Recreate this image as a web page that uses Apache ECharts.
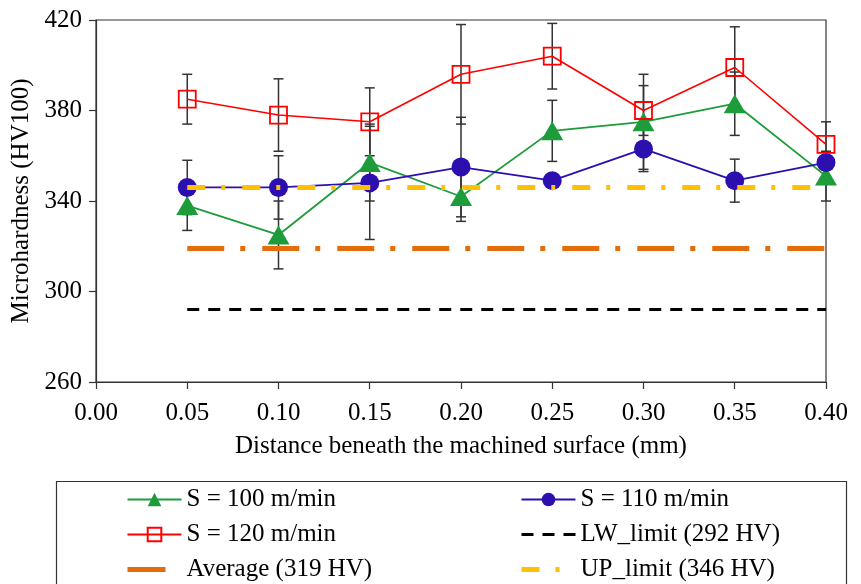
<!DOCTYPE html>
<html>
<head>
<meta charset="utf-8">
<script src="https://cdn.jsdelivr.net/npm/echarts@6/dist/echarts.min.js"></script>
<style>
  html, body { margin: 0; padding: 0; background: #fff; }
  #chart { width: 861px; height: 584px; }
</style>
</head>
<body>
<div id="chart"></div>
<script>
// Depth below the machined surface (mm)
const depths = [0.05, 0.10, 0.15, 0.20, 0.25, 0.30, 0.35, 0.40];

// Microhardness (HV100) and standard deviation per cutting speed
const hv100 = [338, 325, 357, 342, 371, 375, 383, 351];
const err100 = [11, 15, 17, 11, 13.5, 21, 14, 11];
const hv110 = [346, 346, 348, 355, 349, 363, 349, 357];
const err110 = [12, 14, 25, 22, 3, 10, 9.5, 3];
const hv120 = [385, 378, 375, 396, 404, 380, 399, 365];
const err120 = [11, 16, 15, 22, 14.5, 11, 18, 10];

// Reference levels (HV)
const lwLimit = 292;
const average = 319;
const upLimit = 346;
const levelSpan = [0.05, 0.40];

// Axis ranges
const xRange = [0, 0.40, 0.05];
const yRange = [260, 420, 40];

const FONT = "'Liberation Serif', 'Times New Roman', serif";
const FS = 25;
const GREEN = '#1e9b3a';
const BLUE = '#2c0fae';
const RED = '#ff0000';
const ORANGE = '#e46c0a';
const YELLOW = '#ffc000';

function pairs(vals) { return depths.map((d, i) => [d, vals[i]]); }
function errRows(vals, errs) { return depths.map((d, i) => [d, vals[i] - errs[i], vals[i] + errs[i]]); }
function level(v) { return levelSpan.map(x => [x, v]); }

const errorRows = [].concat(errRows(hv100, err100), errRows(hv110, err110), errRows(hv120, err120));

function renderErrorBar(params, api) {
  const x = api.value(0);
  const lo = api.coord([x, api.value(1)]);
  const hi = api.coord([x, api.value(2)]);
  const cap = 5;
  const style = { stroke: '#333', lineWidth: 1.5 };
  return {
    type: 'group',
    children: [
      { type: 'line', shape: { x1: lo[0], y1: lo[1], x2: hi[0], y2: hi[1] }, style },
      { type: 'line', shape: { x1: lo[0] - cap, y1: lo[1], x2: lo[0] + cap, y2: lo[1] }, style },
      { type: 'line', shape: { x1: hi[0] - cap, y1: hi[1], x2: hi[0] + cap, y2: hi[1] }, style }
    ]
  };
}

const legendText = { fontFamily: FONT, fontSize: FS, lineHeight: FS, color: '#000' };
const noMarker = { opacity: 0 };

const option = {
  backgroundColor: '#fff',
  animation: false,
  textStyle: { fontFamily: FONT },
  grid: { left: 96, right: 35, top: 20, bottom: 202, show: true, borderColor: '#333', borderWidth: 1.2 },
  xAxis: {
    type: 'value', min: xRange[0], max: xRange[1], interval: xRange[2],
    name: 'Distance beneath the machined surface (mm)',
    nameLocation: 'middle', nameGap: 52,
    nameTextStyle: { fontFamily: FONT, fontSize: FS, color: '#000' },
    axisLine: { show: true, lineStyle: { color: '#333', width: 1.2 } },
    axisTick: { show: true, inside: false, length: 7, lineStyle: { color: '#333', width: 1.2 } },
    axisLabel: { fontFamily: FONT, fontSize: FS, color: '#000', margin: 19, formatter: v => v.toFixed(2) },
    splitLine: { show: false }
  },
  yAxis: {
    type: 'value', min: yRange[0], max: yRange[1], interval: yRange[2],
    name: 'Microhardness (HV100)',
    nameLocation: 'middle', nameGap: 56,
    nameTextStyle: { fontFamily: FONT, fontSize: FS, color: '#000' },
    axisLine: { show: true, lineStyle: { color: '#333', width: 1.2 } },
    axisTick: { show: true, inside: false, length: 7, lineStyle: { color: '#333', width: 1.2 } },
    axisLabel: { fontFamily: FONT, fontSize: FS, color: '#000', margin: 14 },
    splitLine: { show: false }
  },
  legend: [
    {
      orient: 'vertical', left: 125, top: 487, padding: 0,
      itemWidth: 54, itemHeight: 17, itemGap: 10,
      textStyle: legendText,
      data: [
        { name: 'S = 100 m/min' },
        { name: 'S = 120 m/min' },
        { name: 'Average (319 HV)', itemStyle: noMarker, lineStyle: { width: 5, type: [38, 40] } }
      ]
    },
    {
      orient: 'vertical', left: 519, top: 487, padding: 0,
      itemWidth: 54, itemHeight: 17, itemGap: 10,
      textStyle: legendText,
      data: [
        { name: 'S = 110 m/min' },
        { name: 'LW_limit (292 HV)', itemStyle: noMarker, lineStyle: { width: 3 } },
        { name: 'UP_limit (346 HV)', itemStyle: noMarker, lineStyle: { width: 5 } }
      ]
    }
  ],
  graphic: [
    { type: 'rect', left: 54, top: 479, shape: { width: 790, height: 120 },
      style: { fill: 'none', stroke: '#333', lineWidth: 1.2 }, z: -1 }
  ],
  series: [
    {
      type: 'custom', name: 'error', renderItem: renderErrorBar,
      data: errorRows, encode: { x: 0, y: [1, 2] }, z: 1, silent: true
    },
    {
      name: 'S = 100 m/min', type: 'line', data: pairs(hv100),
      symbol: 'triangle', symbolSize: [22, 19],
      lineStyle: { color: GREEN, width: 1.8 },
      itemStyle: { color: GREEN }, z: 3
    },
    {
      name: 'S = 110 m/min', type: 'line', data: pairs(hv110),
      symbol: 'circle', symbolSize: 19,
      lineStyle: { color: BLUE, width: 1.8 },
      itemStyle: { color: BLUE }, z: 3
    },
    {
      name: 'S = 120 m/min', type: 'line', data: pairs(hv120),
      symbol: 'rect', symbolSize: 17,
      lineStyle: { color: RED, width: 1.6 },
      itemStyle: { color: 'rgba(255,255,255,0)', borderColor: RED, borderWidth: 1.8 }, z: 3
    },
    {
      name: 'LW_limit (292 HV)', type: 'line', data: level(lwLimit), symbol: 'none',
      lineStyle: { color: '#000', width: 3, type: [12, 9] },
      itemStyle: { color: '#000' }, z: 4
    },
    {
      name: 'Average (319 HV)', type: 'line', data: level(average), symbol: 'none',
      lineStyle: { color: ORANGE, width: 5, type: [37, 16, 5, 17] },
      itemStyle: { color: ORANGE }, z: 4
    },
    {
      name: 'UP_limit (346 HV)', type: 'line', data: level(upLimit), symbol: 'none',
      lineStyle: { color: YELLOW, width: 5, type: [18, 16, 4, 17] },
      itemStyle: { color: YELLOW }, z: 4
    }
  ]
};

const chart = echarts.init(document.getElementById('chart'), null, { renderer: 'canvas' });
chart.setOption(option);
</script>
</body>
</html>
